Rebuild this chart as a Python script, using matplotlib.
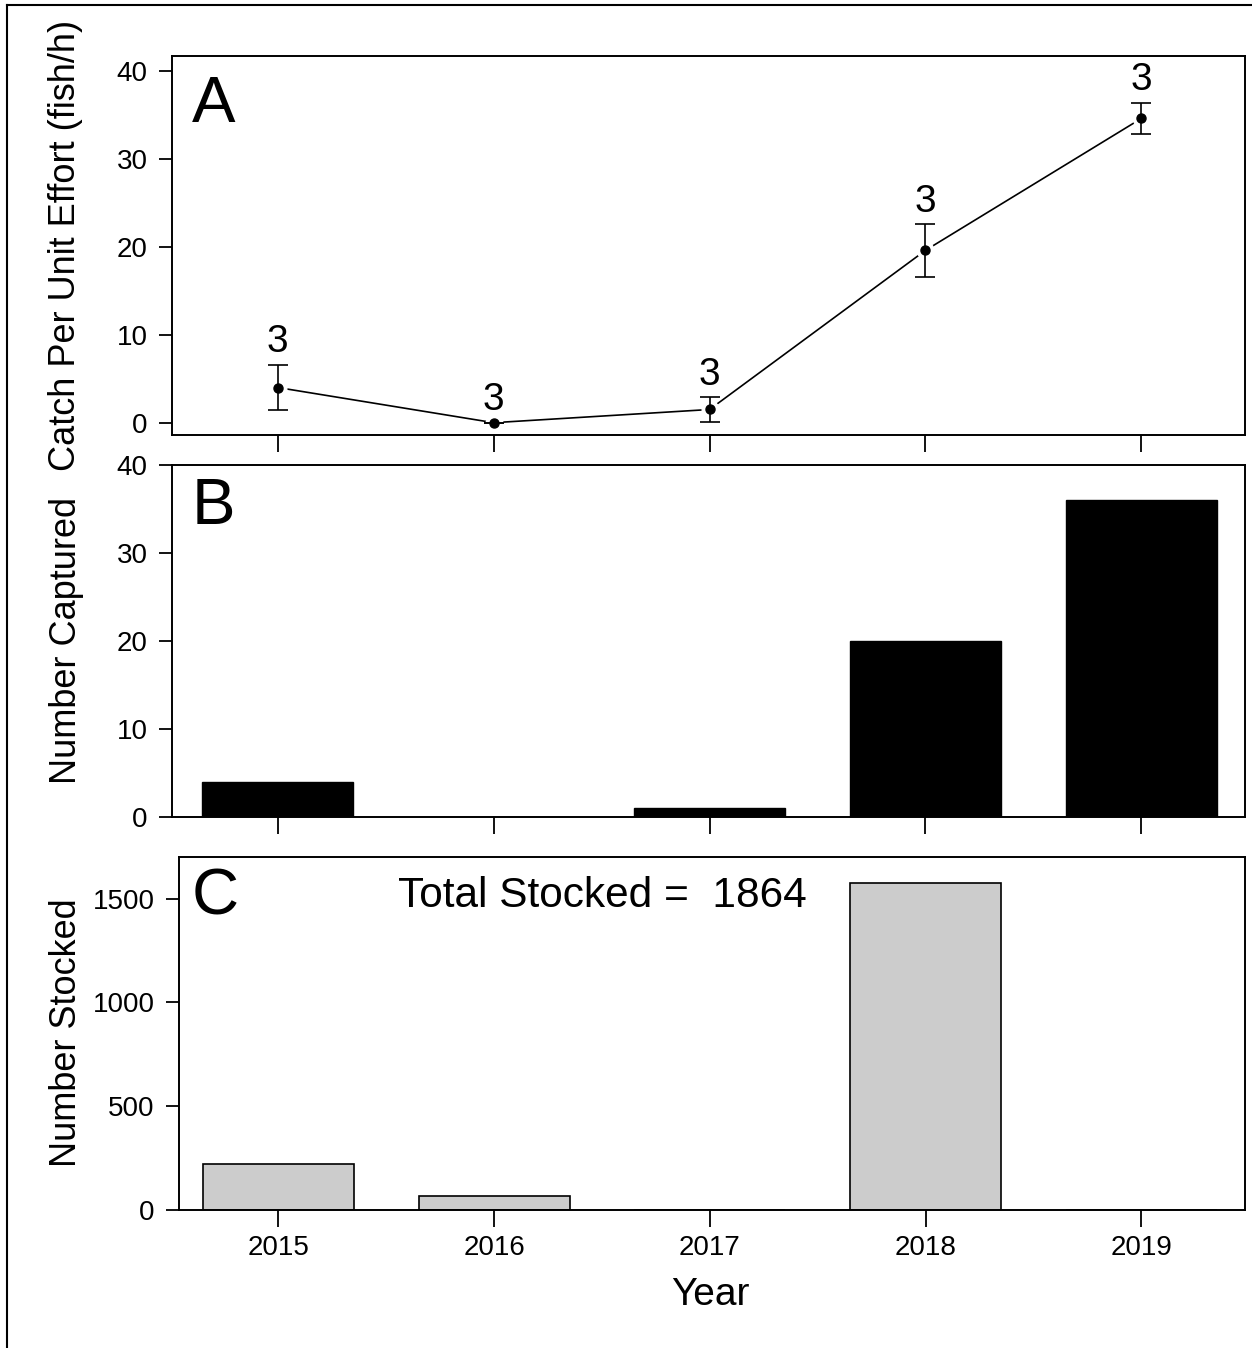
import matplotlib
matplotlib.use("Agg")
import matplotlib.pyplot as plt
from matplotlib.lines import Line2D

plt.rcParams['font.family'] = ['Liberation Sans', 'DejaVu Sans']

years = [2015, 2016, 2017, 2018, 2019]
cpue = [4.0, 0.0, 1.5, 19.6, 34.6]
cpue_err = [2.6, 0.0, 1.4, 3.0, 1.8]
n_samples = ["3", "3", "3", "3", "3"]
captured = [4, 0, 1, 20, 36]
stocked = [220, 67, 0, 1577, 0]
total_stocked = 1864

W, H = 1252, 1348
fig = plt.figure(figsize=(W / 100, H / 100), dpi=100)


def box(l, t, r, b):
    return [l / W, 1 - b / H, (r - l) / W, (b - t) / H]


axA = fig.add_axes(box(172, 56, 1245, 435))
axB = fig.add_axes(box(172, 465, 1245, 817))
axC = fig.add_axes(box(179, 857, 1245, 1210))

for ax in (axA, axB, axC):
    for s in ax.spines.values():
        s.set_linewidth(1.4)
    ax.tick_params(axis='y', direction='out', length=9.5, width=1.3, labelsize=20, pad=8)
    ax.tick_params(axis='x', direction='out', length=12, width=1.3, labelsize=20, pad=6)
    ax.set_xticks(years)

# panel A: CPUE with error bars
axA.plot(years, cpue, color='black', linewidth=1.2, marker='o', markersize=12,
         markerfacecolor='white', markeredgecolor='white', zorder=1)
axA.errorbar(years, cpue, yerr=cpue_err, fmt='none', ecolor='black',
             elinewidth=1.2, capsize=7.5, capthick=1.2, zorder=2)
axA.plot(years, cpue, linestyle='none', marker='o', markersize=6.5,
         color='black', zorder=3)
for x, y, e, n in zip(years, cpue, cpue_err, n_samples):
    axA.text(x, y + e + 0.5, n, ha='center', va='bottom', fontsize=28)
axA.set_xlim(2014.51, 2019.48)
axA.set_ylim(-1.4, 41.7)
axA.set_yticks([0, 10, 20, 30, 40])
axA.set_xticklabels([])
axA.text(0.0186, 0.826, "A", transform=axA.transAxes, fontsize=47)

# panel B: number captured
axB.bar(years, captured, width=0.7, color='black', edgecolor='black')
axB.set_xlim(2014.51, 2019.48)
axB.set_ylim(0, 40)
axB.set_yticks([0, 10, 20, 30, 40])
axB.set_xticklabels([])
axB.text(0.0186, 0.832, "B", transform=axB.transAxes, fontsize=47)

# panel C: number stocked
axC.bar(years, stocked, width=0.7, color='#cccccc', edgecolor='black', linewidth=1.2)
axC.set_xlim(2014.54, 2019.48)
axC.set_ylim(0, 1700)
axC.set_yticks([0, 500, 1000, 1500])
axC.set_xticklabels([str(y) for y in years])
axC.text(0.012, 0.838, "C", transform=axC.transAxes, fontsize=47)
axC.text(0.205, 0.857, "Total Stocked =  %d" % total_stocked,
         transform=axC.transAxes, fontsize=30.5)

# axis labels
fig.text(66 / W, 1 - 245 / H, "Catch Per Unit Effort (fish/h)", rotation=90,
         ha='center', va='center', fontsize=26)
fig.text(66 / W, 1 - 641 / H, "Number Captured", rotation=90,
         ha='center', va='center', fontsize=26)
fig.text(66 / W, 1 - 1033 / H, "Number Stocked", rotation=90,
         ha='center', va='center', fontsize=26)
fig.text(710 / W, 1 - 1295 / H, "Year", ha='center', va='center', fontsize=28)

# frame lines at top and left
fig.add_artist(Line2D([7 / W, 1], [1 - 5 / H, 1 - 5 / H], color='black', linewidth=1.5))
fig.add_artist(Line2D([7 / W, 7 / W], [0, 1 - 5 / H], color='black', linewidth=1.5))

fig.savefig("out.png", dpi=100)
